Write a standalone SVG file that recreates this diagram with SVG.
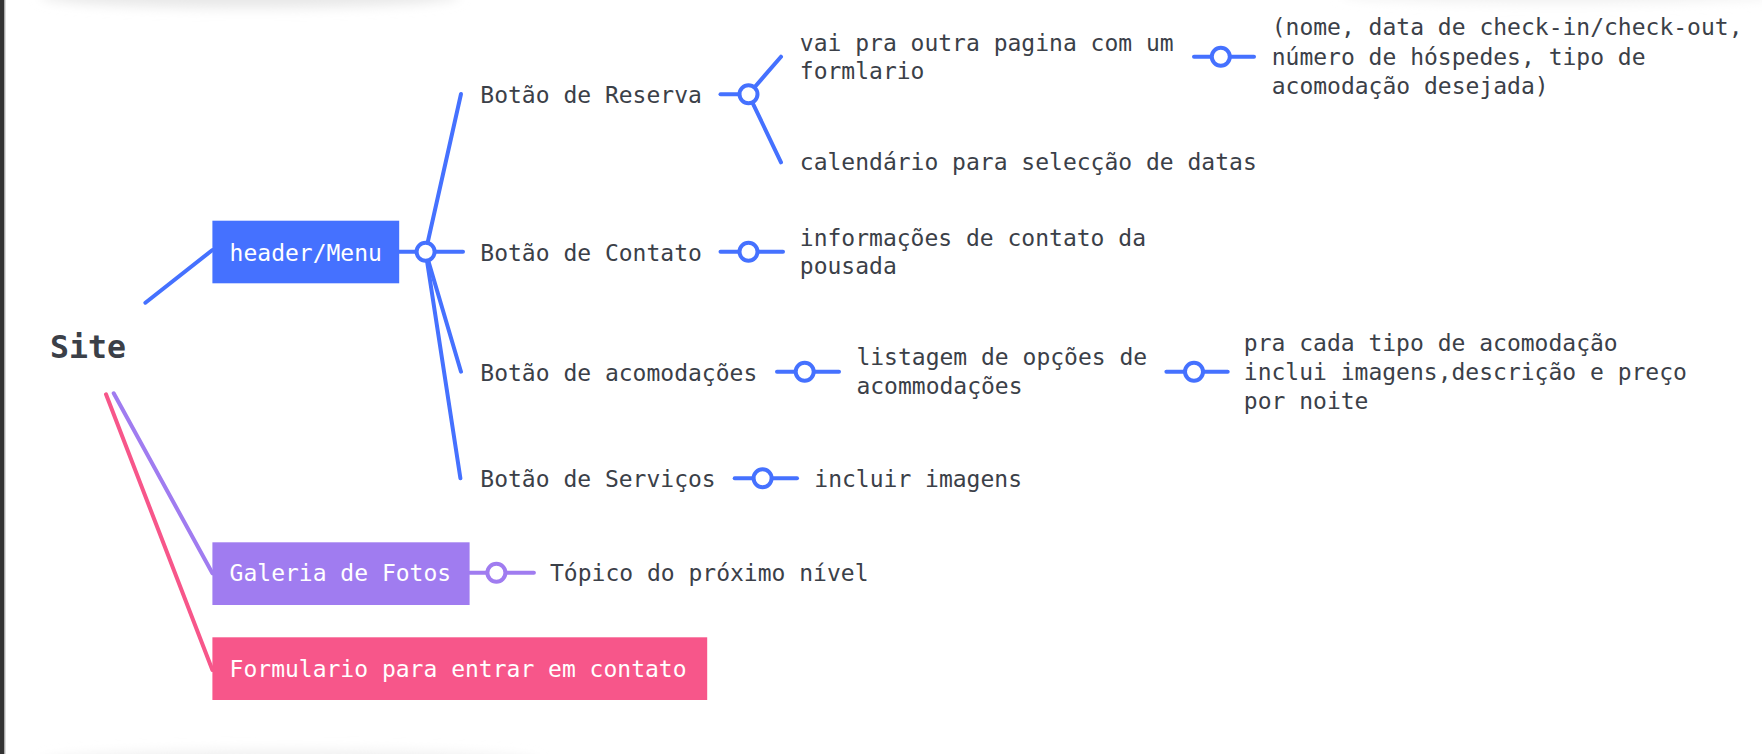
<svg xmlns="http://www.w3.org/2000/svg" width="1762" height="754" viewBox="0 0 1762 754">
  <defs>
    <filter id="blur" x="-20%" y="-200%" width="140%" height="500%">
      <feGaussianBlur stdDeviation="6"/>
    </filter>
    <style>
      .t { font-family: "DejaVu Sans Mono", "Liberation Mono", monospace; font-size: 23px; fill: #3b4048; }
      .w { font-family: "DejaVu Sans Mono", "Liberation Mono", monospace; font-size: 23px; fill: #ffffff; }
      .root { font-family: "DejaVu Sans Mono", "Liberation Mono", monospace; font-size: 31.5px; font-weight: bold; fill: #3b4048; }
      .b { stroke: #4571ff; stroke-width: 4; stroke-linecap: round; fill: none; }
      .p { stroke: #a07cf0; stroke-width: 4; stroke-linecap: round; fill: none; }
      .k { stroke: #f7568a; stroke-width: 4; stroke-linecap: round; fill: none; }
      .cb { stroke: #4571ff; stroke-width: 4; fill: #ffffff; }
      .cp { stroke: #a07cf0; stroke-width: 4; fill: #ffffff; }
    </style>
  </defs>
  <rect x="0" y="0" width="1762" height="754" fill="#ffffff"/>
  <g id="shadows">
    <ellipse cx="250" cy="-4" rx="210" ry="12" fill="#e8e8e8" filter="url(#blur)"/>
    <ellipse cx="1560" cy="-6" rx="220" ry="9" fill="#f0f0f0" filter="url(#blur)"/>
    <ellipse cx="290" cy="762" rx="250" ry="12" fill="#f0f0f0" filter="url(#blur)"/>
    <rect x="0" y="0" width="4.5" height="754" fill="#333333"/>
    <rect x="4.5" y="0" width="1" height="754" fill="#bbbbbb"/>
  </g>
  <g id="connectors">
    <line class="b" x1="145.4" y1="302.7" x2="212.4" y2="250"/>
    <line class="p" x1="113.7" y1="393.3" x2="212.4" y2="573.3"/>
    <line class="k" x1="106" y1="394.3" x2="212.4" y2="670"/>
    <line class="b" x1="399" y1="251.7" x2="425.6" y2="251.7"/>
    <line class="b" x1="425.6" y1="251.7" x2="461" y2="94"/>
    <line class="b" x1="425.6" y1="251.7" x2="463" y2="251.7"/>
    <line class="b" x1="425.6" y1="251.7" x2="461" y2="371.7"/>
    <line class="b" x1="425.6" y1="251.7" x2="460.4" y2="478.3"/>
    <circle class="cb" cx="425.6" cy="251.7" r="9"/>
    <line class="b" x1="720.5" y1="94.3" x2="748.5" y2="94.3"/>
    <line class="b" x1="748.5" y1="94.3" x2="781" y2="56.7"/>
    <line class="b" x1="748.5" y1="94.3" x2="781" y2="162.3"/>
    <circle class="cb" cx="748.5" cy="94.3" r="9"/>
    <line class="b" x1="1194" y1="56.7" x2="1254" y2="56.7"/>
    <circle class="cb" cx="1220.8" cy="56.7" r="9"/>
    <line class="b" x1="720.5" y1="251.7" x2="783" y2="251.7"/>
    <circle class="cb" cx="748.5" cy="251.7" r="9"/>
    <line class="b" x1="777" y1="371.7" x2="839" y2="371.7"/>
    <circle class="cb" cx="804.7" cy="371.7" r="9"/>
    <line class="b" x1="1166.4" y1="371.7" x2="1227.7" y2="371.7"/>
    <circle class="cb" cx="1194" cy="371.7" r="9"/>
    <line class="b" x1="734.7" y1="478.3" x2="797" y2="478.3"/>
    <circle class="cb" cx="762.6" cy="478.3" r="9"/>
    <line class="p" x1="469.6" y1="572.7" x2="533.9" y2="572.7"/>
    <circle class="cp" cx="496.4" cy="572.7" r="9"/>
  </g>
  <g id="node-site"><text class="root" x="50" y="358">Site</text></g>
  <g id="node-header">
    <rect x="212.4" y="220.7" width="186.8" height="62.6" fill="#4571ff"/>
    <text class="w" x="229.6" y="260.5">header/Menu</text>
  </g>
  <g id="node-galeria">
    <rect x="212.4" y="542.3" width="257.2" height="62.7" fill="#a07cf0"/>
    <text class="w" x="229.6" y="581">Galeria de Fotos</text>
  </g>
  <g id="node-formulario">
    <rect x="212.4" y="637.3" width="494.8" height="62.7" fill="#f7568a"/>
    <text class="w" x="229.6" y="677.3">Formulario para entrar em contato</text>
  </g>
  <g id="node-reserva"><text class="t" x="480.3" y="102.5">Botão de Reserva</text></g>
  <g id="node-contato"><text class="t" x="480.3" y="260.7">Botão de Contato</text></g>
  <g id="node-acomodacoes"><text class="t" x="480.3" y="380.7">Botão de acomodações</text></g>
  <g id="node-servicos"><text class="t" x="480.3" y="486.7">Botão de Serviços</text></g>
  <g id="node-vai"><text class="t" x="799.8" y="51"><tspan x="799.8">vai pra outra pagina com um</tspan><tspan x="799.8" dy="28.4">formlario</tspan></text></g>
  <g id="node-nome"><text class="t" x="1271.7" y="35"><tspan x="1271.7">(nome, data de check-in/check-out,</tspan><tspan x="1271.7" dy="29.5">número de hóspedes, tipo de</tspan><tspan x="1271.7" dy="29.5">acomodação desejada)</tspan></text></g>
  <g id="node-calendario"><text class="t" x="799.8" y="170">calendário para selecção de datas</text></g>
  <g id="node-informacoes"><text class="t" x="799.8" y="245.7"><tspan x="799.8">informações de contato da</tspan><tspan x="799.8" dy="28.6">pousada</tspan></text></g>
  <g id="node-listagem"><text class="t" x="856.4" y="365"><tspan x="856.4">listagem de opções de</tspan><tspan x="856.4" dy="28.5">acommodações</tspan></text></g>
  <g id="node-pracada"><text class="t" x="1243.8" y="351"><tspan x="1243.8">pra cada tipo de acomodação</tspan><tspan x="1243.8" dy="29">inclui imagens,descrição e preço</tspan><tspan x="1243.8" dy="29">por noite</tspan></text></g>
  <g id="node-incluir"><text class="t" x="814.3" y="486.7">incluir imagens</text></g>
  <g id="node-topico"><text class="t" x="550" y="581">Tópico do próximo nível</text></g>
</svg>
